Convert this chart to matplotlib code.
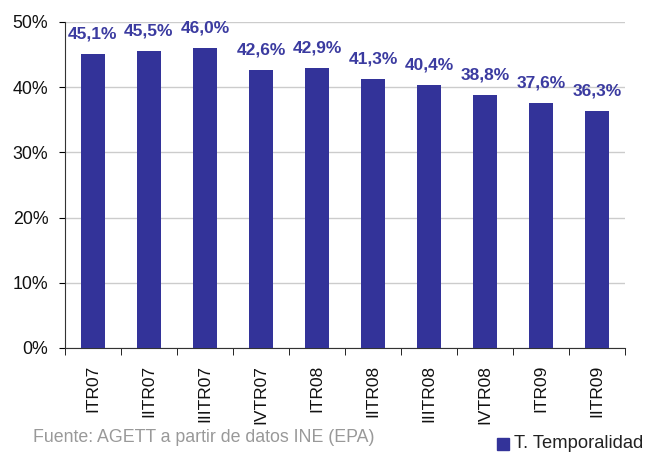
import numpy as np
import matplotlib
matplotlib.use("Agg")
import matplotlib.pyplot as plt
from matplotlib.patches import Rectangle

plt.rcParams['font.family'] = ['Liberation Sans', 'DejaVu Sans']

# data
periodos = ["ITR07", "IITR07", "IIITR07", "IVTR07", "ITR08",
            "IITR08", "IIITR08", "IVTR08", "ITR09", "IITR09"]
temporalidad = [45.1, 45.5, 46.0, 42.6, 42.9, 41.3, 40.4, 38.8, 37.6, 36.3]
etiquetas = ["45,1%", "45,5%", "46,0%", "42,6%", "42,9%",
             "41,3%", "40,4%", "38,8%", "37,6%", "36,3%"]

azul = "#333399"

fig = plt.figure(figsize=(6.61, 4.54), dpi=100)
ax = fig.add_axes([65/661, 1-348/454, 560/661, 326/454])

x = np.arange(len(periodos))
ax.bar(x, temporalidad, width=0.43, color=azul, zorder=3)

for xi, v, lab in zip(x, temporalidad, etiquetas):
    ax.annotate(lab, (xi, v), xytext=(0, 9), textcoords="offset points",
                ha="center", va="bottom", fontsize=12.5, fontweight="bold",
                color="#3b3ba0")

ax.set_xlim(-0.5, len(periodos)-0.5)
ax.set_ylim(0, 50)
ax.set_yticks(range(0, 51, 10))
ax.set_yticklabels([f"{v}%" for v in range(0, 51, 10)], fontsize=12.8,
                   color="#111111")
ax.yaxis.grid(True, color="#cccccc", linewidth=1, zorder=0)

ax.set_xticks(x)
ax.set_xticklabels(periodos, rotation=90, fontsize=12.5, color="#111111")
ax.set_xticks(np.arange(-0.5, len(periodos), 1), minor=True)
ax.tick_params(axis="x", which="major", length=0, pad=12)
ax.tick_params(axis="x", which="minor", length=5, direction="out")
ax.tick_params(axis="y", length=4, direction="out", pad=8)

for s in ["top", "right"]:
    ax.spines[s].set_visible(False)
ax.spines["left"].set_color("#333333")
ax.spines["bottom"].set_color("#333333")

fig.text(33/661, 1-438/454, "Fuente: AGETT a partir de datos INE (EPA)",
         fontsize=12.8, color="#999999", va="center")
fig.patches.append(Rectangle((497/661, 1-450/454), 12/661, 12/454,
                             transform=fig.transFigure, color=azul))
fig.text(514/661, 1-443/454, "T. Temporalidad", fontsize=13.2, color="#222222",
         va="center")

fig.savefig("out.png", dpi=100)
